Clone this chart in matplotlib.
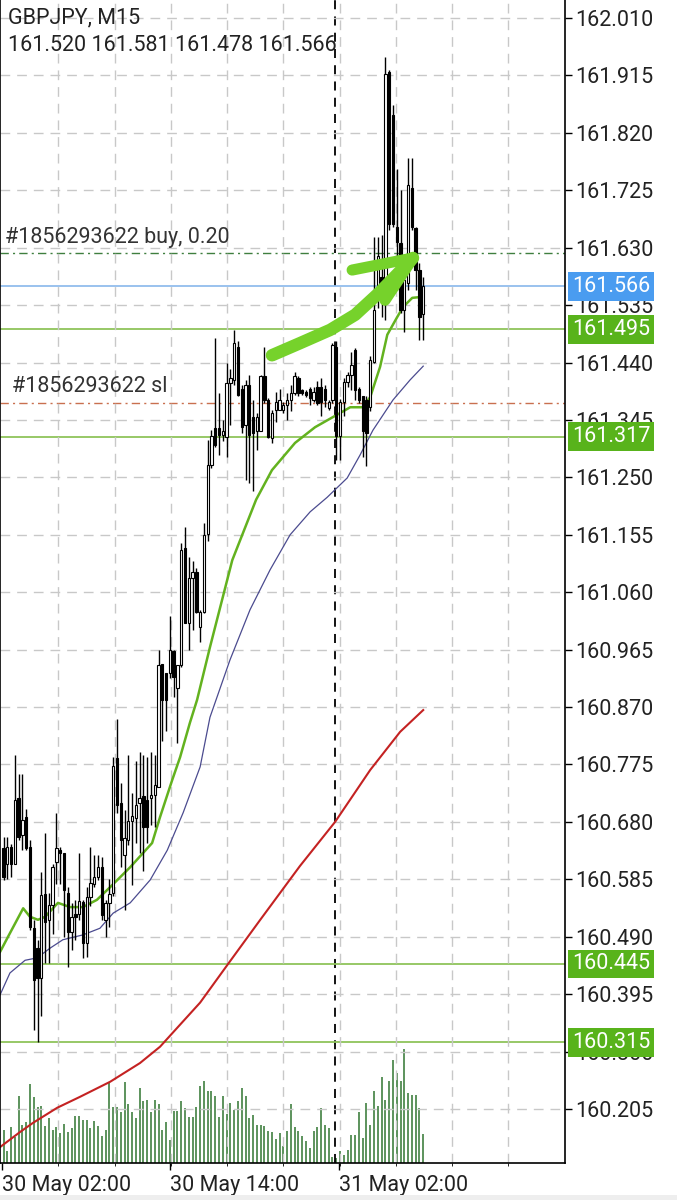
import numpy as np
import matplotlib
matplotlib.use('Agg')
import matplotlib.pyplot as plt
from matplotlib.transforms import blended_transform_factory
from matplotlib.patches import Rectangle

plt.rcParams['font.family'] = ['Roboto', 'DejaVu Sans']

# GBPJPY M15 candles (oldest first)
opens = [160.636, 160.611, 160.638, 160.610, 160.720, 160.658, 160.688, 160.639, 160.504, 160.471,
         160.421, 160.560, 160.517, 160.542, 160.614, 160.633, 160.628, 160.563, 160.497, 160.528,
         160.528, 160.548, 160.479, 160.556, 160.578, 160.589, 160.606, 160.517, 160.545, 160.562,
         160.786, 160.711, 160.626, 160.650, 160.681, 160.686, 160.711, 160.722, 160.716, 160.719,
         160.725, 160.738, 160.942, 160.926, 160.926, 160.962, 160.901, 160.940, 161.133, 161.009,
         161.083, 161.094, 161.003, 161.028, 161.157, 161.271, 161.331, 161.331, 161.320, 161.317,
         161.406, 161.411, 161.466, 161.397, 161.337, 161.403, 161.350, 161.326, 161.326, 161.417,
         161.378, 161.315, 161.362, 161.362, 161.362, 161.370, 161.378, 161.389, 161.414, 161.394,
         161.392, 161.397, 161.378, 161.400, 161.400, 161.397, 161.364, 161.378, 161.466, 161.318,
         161.375, 161.408, 161.419, 161.461, 161.397, 161.384, 161.378, 161.367, 161.441, 161.549,
         161.582, 161.571, 161.921, 161.850, 161.665, 161.637, 161.527, 161.571, 161.728, 161.662,
         161.593, 161.520]
highs = [160.655, 160.655, 160.644, 160.790, 160.760, 160.760, 160.702, 160.650, 160.517, 160.484,
         160.597, 160.661, 160.562, 160.611, 160.694, 160.639, 160.628, 160.573, 160.545, 160.550,
         160.628, 160.550, 160.573, 160.639, 160.625, 160.625, 160.622, 160.551, 160.586, 160.788,
         160.851, 160.744, 160.700, 160.791, 160.727, 160.780, 160.796, 160.791, 160.788, 160.796,
         160.791, 160.964, 160.942, 160.926, 161.020, 160.964, 160.940, 161.141, 161.168, 161.119,
         161.111, 161.100, 161.031, 161.174, 161.312, 161.328, 161.480, 161.389, 161.345, 161.439,
         161.430, 161.494, 161.475, 161.403, 161.411, 161.419, 161.378, 161.356, 161.419, 161.466,
         161.381, 161.362, 161.392, 161.397, 161.375, 161.389, 161.403, 161.425, 161.417, 161.397,
         161.395, 161.400, 161.400, 161.410, 161.414, 161.403, 161.378, 161.472, 161.475, 161.380,
         161.414, 161.425, 161.458, 161.464, 161.400, 161.384, 161.384, 161.450, 161.648, 161.648,
         161.651, 161.946, 161.924, 161.866, 161.761, 161.726, 161.620, 161.778, 161.778, 161.665,
         161.604, 161.581]
lows = [160.584, 160.586, 160.589, 160.610, 160.650, 160.633, 160.633, 160.501, 160.336, 160.316,
        160.358, 160.446, 160.446, 160.495, 160.578, 160.578, 160.490, 160.440, 160.468, 160.484,
        160.517, 160.454, 160.457, 160.540, 160.573, 160.584, 160.517, 160.490, 160.506, 160.557,
        160.695, 160.606, 160.535, 160.642, 160.576, 160.645, 160.628, 160.598, 160.645, 160.675,
        160.672, 160.738, 160.813, 160.830, 160.918, 160.887, 160.810, 160.937, 161.009, 160.964,
        160.998, 161.025, 160.978, 161.025, 161.144, 161.265, 161.301, 161.287, 161.310, 161.284,
        161.337, 161.403, 161.384, 161.323, 161.246, 161.240, 161.227, 161.295, 161.326, 161.373,
        161.315, 161.307, 161.342, 161.362, 161.356, 161.345, 161.359, 161.386, 161.384, 161.386,
        161.383, 161.370, 161.375, 161.370, 161.351, 161.367, 161.362, 161.373, 161.279, 161.279,
        161.351, 161.400, 161.395, 161.378, 161.373, 161.284, 161.268, 161.359, 161.439, 161.530,
        161.516, 161.511, 161.660, 161.665, 161.560, 161.522, 161.490, 161.560, 161.660, 161.560,
        161.478, 161.478]
closes = [160.589, 160.639, 160.611, 160.717, 160.655, 160.683, 160.636, 160.506, 160.418, 160.421,
          160.559, 160.515, 160.542, 160.606, 160.636, 160.628, 160.567, 160.497, 160.523, 160.523,
          160.549, 160.479, 160.556, 160.579, 160.589, 160.606, 160.526, 160.545, 160.561, 160.772,
          160.708, 160.650, 160.653, 160.681, 160.689, 160.708, 160.719, 160.672, 160.672, 160.725,
          160.741, 160.940, 160.882, 160.882, 160.964, 160.920, 160.940, 161.130, 161.009, 161.083,
          161.094, 161.028, 161.028, 161.155, 161.271, 161.318, 161.304, 161.320, 161.326, 161.406,
          161.414, 161.472, 161.386, 161.334, 161.403, 161.320, 161.324, 161.350, 161.417, 161.378,
          161.317, 161.356, 161.375, 161.378, 161.370, 161.378, 161.389, 161.417, 161.389, 161.389,
          161.386, 161.381, 161.392, 161.373, 161.375, 161.378, 161.375, 161.469, 161.318, 161.375,
          161.408, 161.419, 161.436, 161.395, 161.378, 161.326, 161.323, 161.444, 161.527, 161.616,
          161.549, 161.918, 161.670, 161.670, 161.640, 161.527, 161.577, 161.734, 161.665, 161.593,
          161.516, 161.566]
tick_volumes = [333, 123, 363, 263, 667, 380, 407, 790, 657, 563,
                573, 373, 450, 333, 357, 297, 393, 307, 347, 467,
                473, 433, 427, 350, 420, 373, 267, 330, 797, 563,
                563, 507, 807, 590, 513, 447, 747, 617, 633, 513,
                633, 590, 333, 407, 233, 523, 523, 623, 553, 457,
                463, 563, 773, 823, 723, 723, 673, 457, 673, 490,
                600, 533, 623, 747, 667, 447, 480, 380, 380, 373,
                317, 307, 240, 297, 173, 323, 590, 357, 323, 267,
                223, 147, 317, 357, 547, 380, 347, 57, 50, 123,
                80, 130, 280, 280, 507, 247, 600, 380, 723, 567,
                857, 633, 823, 1033, 900, 823, 1140, 700, 680, 680,
                547, 290]

# moving averages, sampled along the drawn curves (bar index, price)
ma_fast_idx = [-0.9, 1.2, 5.2, 7.0, 9.1, 11.0, 14.4, 17.6, 21.0, 24.7, 28.2, 33.5, 39.3, 41.4,
               44.6, 46.7, 49.3, 51.2, 54.6, 60.5, 66.8, 71.0, 77.1, 82.4, 87.2, 91.7, 95.1,
               97.0, 99.6, 101.5, 104.1, 105.7, 108.1, 109.7, 111.0]
ma_fast = [160.465, 160.490, 160.537, 160.523, 160.518, 160.523, 160.546, 160.539, 160.539,
           160.551, 160.572, 160.605, 160.645, 160.688, 160.749, 160.787, 160.844, 160.882,
           160.969, 161.113, 161.213, 161.262, 161.307, 161.333, 161.350, 161.366, 161.366,
           161.383, 161.433, 161.486, 161.515, 161.532, 161.547, 161.548, 161.538]
ma_mid_idx = [-0.9, 1.7, 5.7, 8.9, 12.3, 15.7, 21.0, 25.5, 29.0, 33.5, 38.8, 43.3, 47.5, 52.0,
              54.6, 59.9, 65.2, 70.5, 75.8, 81.1, 85.6, 90.9, 94.3, 97.7, 103.0, 107.5, 111.0]
ma_mid = [160.394, 160.430, 160.451, 160.455, 160.471, 160.485, 160.493, 160.504, 160.529,
          160.546, 160.584, 160.633, 160.695, 160.771, 160.853, 160.948, 161.031, 161.097,
          161.155, 161.193, 161.217, 161.249, 161.287, 161.328, 161.378, 161.411, 161.434]
ma_slow_idx = [-0.9, 4.4, 7.8, 14.2, 20.2, 28.2, 36.1, 41.4, 52.0, 59.4, 67.9, 78.4, 87.7,
               97.0, 104.9, 111.0]
ma_slow = [160.142, 160.167, 160.182, 160.207, 160.225, 160.250, 160.281, 160.308, 160.381,
           160.445, 160.518, 160.607, 160.680, 160.766, 160.829, 160.865]

price_ticks = [162.010, 161.915, 161.820, 161.725, 161.630, 161.535, 161.440, 161.345, 161.250,
               161.155, 161.060, 160.965, 160.870, 160.775, 160.680, 160.585, 160.490, 160.395,
               160.300, 160.205]
level_lines = [161.495, 161.317, 160.445, 160.315]
last_price = 161.566
buy_price = 161.622
sl_price = 161.373
time_labels = ['30 May 02:00', '30 May 14:00', '31 May 02:00']
time_label_idx = [-0.4, 44.0, 88.8]
day_break_idx = 87.7

# hand-drawn arrow (bar index, price)
arrow_shaft = ([71.0, 78.4, 86.4, 93.0, 99.6, 108.3],
               [161.452, 161.472, 161.494, 161.519, 161.557, 161.613])
arrow_heads = [([92.2, 108.3], [161.593, 161.613]), ([100.9, 108.3], [161.543, 161.613])]

GREEN_LINE = '#8fc45a'
GREEN_BOX = '#58b31b'
BLUE_BOX = '#4a9cf0'

fig = plt.figure(figsize=(6.77, 12.0), dpi=100, facecolor='white')
rect = [0, 37 / 1200, 565 / 677, 1163 / 1200]
ax_vol = fig.add_axes(rect)
ax = fig.add_axes(rect, sharex=ax_vol)
ax.patch.set_visible(False)

n = len(opens)
idx = np.arange(n)
o, h, l, c = map(np.array, (opens, highs, lows, closes))

# volume histogram at the bottom
ax_vol.vlines(idx, 0, tick_volumes, color='#4f8a4f', lw=1.3)
ax_vol.set_ylim(0, 11630)
ax_vol.set_yticks([])
for s in ax_vol.spines.values():
    s.set_visible(False)
ax_vol.tick_params(axis='x', length=0, labelbottom=False)

ax.set_xlim(-0.93, 148.5)
ax.set_ylim(160.1156, 162.0398)

# grid
ax.set_yticks(price_ticks)
ax.set_yticklabels([f'{p:.3f}' for p in price_ticks])
ax.set_xticks(np.arange(-0.4, 148, 14.88), minor=True)
ax.set_xticks(time_label_idx)
ax.set_xticklabels(time_labels, ha='left')
ax.grid(True, which='major', axis='y', color='#c8c8c8', ls=(0, (7, 5)), lw=1)
ax.grid(True, which='minor', axis='x', color='#c8c8c8', ls=(0, (7, 5)), lw=1)
ax.grid(False, which='major', axis='x')
ax.axvline(day_break_idx, color='black', ls=(0, (5, 4)), lw=1.3, zorder=1)

# horizontal levels
for lv in level_lines:
    ax.axhline(lv, color=GREEN_LINE, lw=1.3, zorder=1.5)
ax.axhline(last_price, color='#7fb2ea', lw=1.1, zorder=1.5)
ax.axhline(buy_price, color='#3f7f3f', ls=(0, (6, 3, 1.5, 3)), lw=1, zorder=1.5)
ax.axhline(sl_price, color='#c9704f', ls=(0, (6, 3, 1.5, 3)), lw=1, zorder=1.5)

# moving averages
ax.plot(ma_slow_idx, ma_slow, color='#c42222', lw=1.5, zorder=2)
ax.plot(ma_mid_idx, ma_mid, color='#4b4b8f', lw=0.9, zorder=2)
ax.plot(ma_fast_idx, ma_fast, color='#63b21f', lw=1.8, zorder=2)

# candles
ax.vlines(idx, l, h, color='black', lw=1.0, zorder=3)
up = c >= o
body_lo = np.minimum(o, c)
body_h = np.maximum(np.abs(c - o), 0.002)
ax.bar(idx[up], body_h[up], bottom=body_lo[up], width=0.62, facecolor='white',
       edgecolor='black', lw=0.8, zorder=4)
ax.bar(idx[~up], body_h[~up], bottom=body_lo[~up], width=0.62, facecolor='black',
       edgecolor='black', lw=0.8, zorder=4)

# green marker arrow
ax.plot(*arrow_shaft, color='#76d22b', lw=9, solid_capstyle='round',
        solid_joinstyle='round', zorder=6)
for hx, hy in arrow_heads:
    ax.plot(hx, hy, color='#76d22b', lw=8, solid_capstyle='round', zorder=6)

# axes styling
ax.yaxis.tick_right()
ax.tick_params(axis='y', which='major', direction='out', length=5, width=1,
               labelsize=15.5, pad=2, labelcolor='#222222')
ax.tick_params(axis='x', which='major', direction='out', length=5, width=1,
               labelsize=15.5, pad=4, labelcolor='#222222')
ax.tick_params(axis='x', which='minor', length=0)
ax.spines['top'].set_visible(False)
for side in ('left', 'right', 'bottom'):
    ax.spines[side].set_color('black')
    ax.spines[side].set_linewidth(1.2)

# price boxes on the scale
box_tr = blended_transform_factory(ax.transAxes, ax.transData)
for lv in level_lines:
    ax.text(1.012, lv, f'{lv:.3f}', transform=box_tr, va='center', ha='left', fontsize=15.5,
            color='white', clip_on=False, zorder=10,
            bbox=dict(boxstyle='square,pad=0.18', fc=GREEN_BOX, ec='none'))
ax.text(1.012, last_price, f'{last_price:.3f}', transform=box_tr, va='center', ha='left',
        fontsize=15.5, color='white', clip_on=False, zorder=10,
        bbox=dict(boxstyle='square,pad=0.18', fc=BLUE_BOX, ec='none'))

# order labels
ax.annotate('#1856293622 buy, 0.20', xy=(0.008, buy_price), xycoords=box_tr,
            xytext=(0, 3), textcoords='offset points', va='bottom', ha='left',
            fontsize=15.5, color='#333333')
ax.annotate('#1856293622 sl', xy=(0.022, sl_price), xycoords=box_tr,
            xytext=(0, 4), textcoords='offset points', va='bottom', ha='left',
            fontsize=15.5, color='#333333')

# header
ax.text(0.015, 0.985, 'GBPJPY, M15', transform=ax.transAxes, va='center', ha='left',
        fontsize=15.5, color='#222222')
ax.text(0.015, 0.961, f'{opens[-1]:.3f} {highs[-1]:.3f} {lows[-1]:.3f} {closes[-1]:.3f}',
        transform=ax.transAxes, va='center', ha='left', fontsize=15.5, color='#222222')

fig.patches.append(Rectangle((0, 0), 1, 5 / 1200, transform=fig.transFigure,
                             facecolor='#eeeeee', edgecolor='none'))

fig.savefig('out.png', dpi=100, facecolor='white')
